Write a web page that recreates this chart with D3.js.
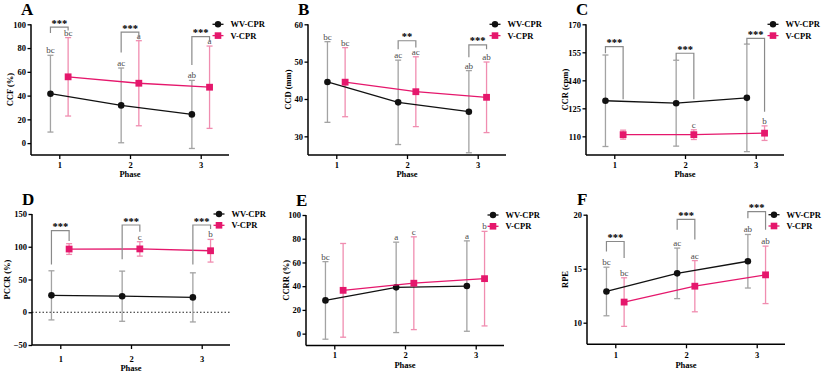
<!DOCTYPE html>
<html>
<head>
<meta charset="utf-8">
<script src="https://cdn.jsdelivr.net/npm/d3@7"></script>
<style>
  html, body { margin: 0; padding: 0; background: #fff; }
  svg { display: block; }
  svg text { font-family: "Liberation Serif", "Times New Roman", serif; }
</style>
</head>
<body>
<svg id="chart" width="824" height="375"></svg>
<script>
// ---------- data ----------
const phases = [1, 2, 3];
const phaseLabels = ["1", "2", "3"];
const seriesNames = ["WV-CPR", "V-CPR"];
const panelLetters = ["A", "B", "C", "D", "E", "F"];
const yTitles = ["CCF (%)", "CCD (mm)", "CCR (cpm)", "PCCR (%)", "CCRR (%)", "RPE"];
const yDomains = [[-10, 100], [25, 60], [100, 170], [-50, 150], [-10, 100], [8, 20]];
const yTickValues = [
  [0, 20, 40, 60, 80, 100],
  [30, 40, 50, 60],
  [110, 125, 140, 155, 170],
  [-50, 0, 50, 100, 150],
  [0, 20, 40, 60, 80, 100],
  [10, 15, 20]
];

// A: CCF
const ccfWvMean = [41.6, 31.75, 24.15];
const ccfWvSd = [32.3, 31.45, 28.65];
const ccfVMean = [55.8, 50.4, 47.05];
const ccfVSd = [33, 35.8, 34.65];
const ccfWvLetters = ["bc", "ac", "ab"];
const ccfVLetters = ["bc", "a", "a"];
const ccfSigStars = ["***", "***", "***"];
const ccfSigTop = [97.6, 93.4, 89.7];
const ccfSigLeftEnd = [92.6, 76.2, 65.8];
const ccfSigRightEnd = [94.8, 87.5, 85.5];

// B: CCD
const ccdWvMean = [44.55, 39.1, 36.6];
const ccdWvSd = [10.8, 11.3, 11.0];
const ccdVMean = [44.5, 41.95, 40.45];
const ccdVSd = [9.25, 9.35, 9.45];
const ccdWvLetters = ["bc", "ac", "ab"];
const ccdVLetters = ["bc", "ac", "ab"];
const ccdSigStars = ["", "**", "***"];
const ccdSigTop = [null, 55.6, 54.5];
const ccdSigLeftEnd = [null, 53.3, 51.2];
const ccdSigRightEnd = [null, 53.8, 53.3];

// C: CCR
const ccrWvMean = [129.05, 127.75, 130.6];
const ccrWvSd = [24.5, 23.0, 28.8];
const ccrVMean = [110.9, 110.9, 111.7];
const ccrVSd = [2.4, 2.6, 3.9];
const ccrWvLetters = ["", "", ""];
const ccrVLetters = ["", "c", "b"];
const ccrSigStars = ["***", "***", "***"];
const ccrSigTop = [158, 154.5, 162.5];
const ccrSigLeftEnd = [154.5, 150.9, 159.4];
const ccrSigRightEnd = [129.8, 129.8, 123.2];

// D: PCCR
const pccrWvMean = [25.8, 24.5, 22.7];
const pccrWvSd = [37.5, 38.3, 37.5];
const pccrVMean = [96.5, 96.7, 93.9];
const pccrVSd = [8.2, 11.0, 17.3];
const pccrWvLetters = ["", "", ""];
const pccrVLetters = ["", "c", "b"];
const pccrSigStars = ["***", "***", "***"];
const pccrSigTop = [124.5, 133.2, 133.2];
const pccrSigLeftEnd = [73, 81.1, 73];
const pccrSigRightEnd = [108.7, 123, 127];

// E: CCRR
const ccrrWvMean = [28.0, 39.0, 40.1];
const ccrrWvSd = [32.7, 38.1, 38.1];
const ccrrVMean = [36.5, 42.5, 46.35];
const ccrrVSd = [39.5, 39.1, 39.85];
const ccrrWvLetters = ["bc", "a", "a"];
const ccrrVLetters = ["", "c", "b"];
const ccrrSigStars = ["", "", ""];
const ccrrSigTop = [null, null, null];
const ccrrSigLeftEnd = [null, null, null];
const ccrrSigRightEnd = [null, null, null];

// F: RPE
const rpeWvMean = [12.89, 14.57, 15.69];
const rpeWvSd = [2.25, 2.34, 2.48];
const rpeVMean = [11.91, 13.38, 14.43];
const rpeVSd = [2.25, 2.37, 2.66];
const rpeWvLetters = ["bc", "ac", "ab"];
const rpeVLetters = ["bc", "ac", "ab"];
const rpeSigStars = ["***", "***", "***"];
const rpeSigTop = [17.52, 19.57, 20.28];
const rpeSigLeftEnd = [16.6, 18.6, 19.66];
const rpeSigRightEnd = [16.0, 17.7, 18.6];

// ---------- assemble ----------
const panelData = [
  [ccfWvMean, ccfWvSd, ccfVMean, ccfVSd, ccfWvLetters, ccfVLetters, ccfSigStars, ccfSigTop, ccfSigLeftEnd, ccfSigRightEnd],
  [ccdWvMean, ccdWvSd, ccdVMean, ccdVSd, ccdWvLetters, ccdVLetters, ccdSigStars, ccdSigTop, ccdSigLeftEnd, ccdSigRightEnd],
  [ccrWvMean, ccrWvSd, ccrVMean, ccrVSd, ccrWvLetters, ccrVLetters, ccrSigStars, ccrSigTop, ccrSigLeftEnd, ccrSigRightEnd],
  [pccrWvMean, pccrWvSd, pccrVMean, pccrVSd, pccrWvLetters, pccrVLetters, pccrSigStars, pccrSigTop, pccrSigLeftEnd, pccrSigRightEnd],
  [ccrrWvMean, ccrrWvSd, ccrrVMean, ccrrVSd, ccrrWvLetters, ccrrVLetters, ccrrSigStars, ccrrSigTop, ccrrSigLeftEnd, ccrrSigRightEnd],
  [rpeWvMean, rpeWvSd, rpeVMean, rpeVSd, rpeWvLetters, rpeVLetters, rpeSigStars, rpeSigTop, rpeSigLeftEnd, rpeSigRightEnd]
];

// layout (pixels)
const layout = [
  { left: 31, top: 24.3, bottom: 155, titleOff: 21, tickGap: 12.7, phaseGap: 21.5 },
  { left: 308, top: 24.3, bottom: 155, titleOff: 20, tickGap: 12.7, phaseGap: 21.5 },
  { left: 586, top: 24.3, bottom: 155, titleOff: 21, tickGap: 12.7, phaseGap: 21.5 },
  { left: 32, top: 214, bottom: 345, titleOff: 25, tickGap: 16.5, phaseGap: 26 },
  { left: 306, top: 215, bottom: 345.5, titleOff: 19.5, tickGap: 12.7, phaseGap: 22 },
  { left: 587, top: 214.7, bottom: 344.3, titleOff: 22, tickGap: 13.3, phaseGap: 23.3 }
];
const plotW = 198;

const FONT = "'Liberation Serif', 'Times New Roman', serif";
const BLACK = "#111";
const PINK = "#e5176c";
const GRAY_ERR = "#a3a3a3";
const PINK_ERR = "#f08db0";
const OFFSET = 0.125;

const svg = d3.select("#chart").attr("font-family", FONT);

function txt(g) {
  return g.append("text").attr("font-family", FONT);
}

panelData.forEach((pd, i) => {
  const [wvM, wvS, vM, vS, wvL, vL, sStars, sTop, sLeft, sRight] = pd;
  const L = layout[i];
  const x = d3.scaleLinear().domain([0.6, 3.4]).range([L.left, L.left + plotW]);
  const y = d3.scaleLinear().domain(yDomains[i]).range([L.bottom, L.top]);
  const g = svg.append("g");

  // panel letter
  txt(g).attr("x", L.left - 10).attr("y", L.top - 9.3)
    .attr("font-size", 17).attr("font-weight", "bold").attr("fill", "#000")
    .text(panelLetters[i]);

  // zero dotted line for D
  if (i === 3) {
    g.append("line").attr("x1", L.left).attr("x2", L.left + plotW)
      .attr("y1", y(0)).attr("y2", y(0))
      .attr("stroke", "#222").attr("stroke-width", 1).attr("stroke-dasharray", "1.5,2");
  }

  // axes
  const yAxis = d3.axisLeft(y).tickValues(yTickValues[i]).tickSize(3.5).tickPadding(1.5).tickFormat(d3.format("d"));
  const ya = g.append("g").attr("transform", `translate(${L.left},0)`).call(yAxis);
  const xAxis = d3.axisBottom(x).tickValues(phases).tickSize(4).tickPadding(3).tickFormat((d, k) => phaseLabels[k]);
  const xa = g.append("g").attr("transform", `translate(0,${L.bottom})`).call(xAxis);
  [ya, xa].forEach(a => {
    a.attr("font-family", FONT);
    a.select(".domain").attr("stroke", "#000").attr("stroke-width", 1.5);
    a.selectAll(".tick line").attr("stroke", "#000").attr("stroke-width", 1.3);
    a.selectAll(".tick text").attr("font-family", FONT)
      .attr("font-weight", "bold").attr("font-size", 8.5).attr("fill", "#000");
  });
  ya.select(".domain").attr("d", `M-0,${L.bottom}V${L.top}`);
  xa.select(".domain").attr("d", `M${L.left},0H${L.left + plotW}`);
  xa.selectAll(".tick text").attr("dy", null).attr("y", L.tickGap);

  // axis titles
  txt(g).attr("x", (x(1) + x(3)) / 2).attr("y", L.bottom + L.phaseGap)
    .attr("text-anchor", "middle").attr("font-size", 8.5).attr("font-weight", "bold").text("Phase");
  txt(g)
    .attr("transform", `translate(${L.left - L.titleOff},${(L.top + L.bottom) / 2}) rotate(-90)`)
    .attr("text-anchor", "middle").attr("dy", "0.35em")
    .attr("font-size", 8.5).attr("font-weight", "bold").text(yTitles[i]);

  const series = [
    { mean: wvM, sd: wvS, letters: wvL, off: -OFFSET, color: BLACK, err: GRAY_ERR, shape: "circle" },
    { mean: vM, sd: vS, letters: vL, off: OFFSET, color: PINK, err: PINK_ERR, shape: "square" }
  ];

  // error bars
  series.forEach(s => {
    phases.forEach((p, k) => {
      const cx = x(p + s.off);
      const hi = y(s.mean[k] + s.sd[k]), lo = y(s.mean[k] - s.sd[k]);
      g.append("line").attr("x1", cx).attr("x2", cx).attr("y1", hi).attr("y2", lo)
        .attr("stroke", s.err).attr("stroke-width", 1.3);
      [hi, lo].forEach(yy => g.append("line").attr("x1", cx - 3).attr("x2", cx + 3)
        .attr("y1", yy).attr("y2", yy).attr("stroke", s.err).attr("stroke-width", 1.3));
      if (s.letters[k]) {
        txt(g).attr("x", cx).attr("y", hi - 2).attr("text-anchor", "middle")
          .attr("font-size", 9).attr("fill", "#4a4a4a").text(s.letters[k]);
      }
    });
  });

  // lines and markers
  series.forEach(s => {
    const line = d3.line().x((d, k) => x(phases[k] + s.off)).y(d => y(d));
    g.append("path").attr("d", line(s.mean)).attr("fill", "none")
      .attr("stroke", s.color).attr("stroke-width", 1.3);
    phases.forEach((p, k) => {
      const cx = x(p + s.off), cy = y(s.mean[k]);
      if (s.shape === "circle") {
        g.append("circle").attr("cx", cx).attr("cy", cy).attr("r", 3.3).attr("fill", s.color);
      } else {
        g.append("rect").attr("x", cx - 3.4).attr("y", cy - 3.4).attr("width", 6.8).attr("height", 6.8).attr("fill", s.color);
      }
    });
  });

  // significance brackets
  phases.forEach((p, k) => {
    if (!sStars[k]) return;
    const x1 = x(p - OFFSET), x2 = x(p + OFFSET);
    const yt = y(sTop[k]);
    g.append("path")
      .attr("d", `M${x1},${y(sLeft[k])}V${yt}H${x2}V${y(sRight[k])}`)
      .attr("fill", "none").attr("stroke", "#8a8a8a").attr("stroke-width", 1.2);
    txt(g).attr("x", (x1 + x2) / 2).attr("y", yt - 0.5).attr("text-anchor", "middle")
      .attr("font-size", 10.5).attr("font-weight", "bold").attr("fill", "#000").text(sStars[k]);
  });

  // legend
  const lx = L.left + 187;
  series.forEach((s, k) => {
    const ly = L.top + k * 11.3;
    g.append("line").attr("x1", lx - 5.5).attr("x2", lx + 5.5).attr("y1", ly).attr("y2", ly)
      .attr("stroke", s.color).attr("stroke-width", 1.3);
    if (s.shape === "circle") {
      g.append("circle").attr("cx", lx).attr("cy", ly).attr("r", 3.2).attr("fill", s.color);
    } else {
      g.append("rect").attr("x", lx - 3.3).attr("y", ly - 3.3).attr("width", 6.6).attr("height", 6.6).attr("fill", s.color);
    }
    txt(g).attr("x", lx + 12.5).attr("y", ly).attr("dy", "0.35em")
      .attr("font-size", 8.5).attr("font-weight", "bold").attr("fill", "#000").text(seriesNames[k]);
  });
});
</script>
</body>
</html>
